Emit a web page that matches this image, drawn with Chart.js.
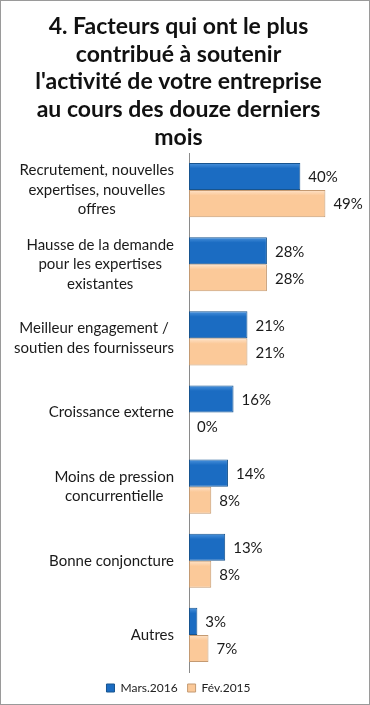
<!DOCTYPE html>
<html lang="fr">
<head>
  <meta charset="UTF-8">
  <title>Facteurs qui ont le plus contribué</title>
  <script src="https://cdn.jsdelivr.net/npm/chart.js"></script>
  <style>
    html, body {
      margin: 0;
      padding: 0;
      background: #fff;
    }
    .frame {
      width: 370px;
      height: 705px;
      box-sizing: border-box;
      border: 1px solid #9a9a9a;
    }
    .frame canvas {
      display: block;
    }
  </style>
</head>
<body>
  <div class="frame">
    <canvas id="facteursChart" width="368" height="703"></canvas>
  </div>

  <script>
    const categories = [
      ['Recrutement, nouvelles', 'expertises, nouvelles', 'offres'],
      ['Hausse de la demande', 'pour les expertises', 'existantes'],
      ['Meilleur engagement /', 'soutien des fournisseurs'],
      ['Croissance externe'],
      ['Moins de pression', 'concurrentielle'],
      ['Bonne conjoncture'],
      ['Autres']
    ];
    const mars2016 = [40, 28, 21, 16, 14, 13, 3];
    const fev2015 = [49, 28, 21, 0, 8, 8, 7];
    const seriesNames = ['Mars.2016', 'Fév.2015'];
    const titleLines = [
      '4. Facteurs qui ont le plus',
      'contribué à soutenir',
      "l'activité de votre entreprise",
      'au cours des douze derniers',
      'mois'
    ];

    const fontFamily = "Lato, 'Open Sans', sans-serif";

    // petit relief : bande claire en haut de chaque barre
    const barFill = (light, base, side) => (context) => {
      const chart = context.chart;
      const y = chart.scales && chart.scales.y;
      if (!y || !chart.chartArea) return base;
      const c = y.getPixelForValue(context.dataIndex);
      const top = side === 0 ? c - 27 : c;
      const g = chart.ctx.createLinearGradient(0, top, 0, top + 27);
      g.addColorStop(0, light);
      g.addColorStop(0.2, base);
      g.addColorStop(1, base);
      return g;
    };

    // libellés de catégories : bloc aligné à droite, lignes centrées
    const categoryLabels = {
      id: 'categoryLabels',
      afterDraw(chart) {
        const ctx = chart.ctx;
        const scale = chart.scales.y;
        const right = scale.right - 15;
        const lh = 19.5;
        ctx.save();
        ctx.font = '15px ' + fontFamily;
        ctx.fillStyle = '#1a1a1a';
        ctx.textAlign = 'center';
        ctx.textBaseline = 'middle';
        chart.data.labels.forEach((lines, i) => {
          const cy = scale.getPixelForTick(i);
          const w = Math.max(...lines.map(l => ctx.measureText(l).width));
          const cx = right - w / 2;
          lines.forEach((l, k) => {
            ctx.fillText(l, cx, cy + (k - (lines.length - 1) / 2) * lh);
          });
        });
        ctx.restore();
      }
    };

    // étiquettes de valeur à droite des barres
    const valueLabels = {
      id: 'valueLabels',
      afterDatasetsDraw(chart) {
        const ctx = chart.ctx;
        ctx.save();
        ctx.font = '15px ' + fontFamily;
        ctx.fillStyle = '#1a1a1a';
        ctx.textAlign = 'left';
        ctx.textBaseline = 'middle';
        chart.data.datasets.forEach((ds, i) => {
          chart.getDatasetMeta(i).data.forEach((bar, j) => {
            ctx.fillText(ds.data[j] + '%', bar.x + 8, bar.y + 1);
          });
        });
        ctx.restore();
      }
    };

    const ctx = document.getElementById('facteursChart').getContext('2d');

    new Chart(ctx, {
      type: 'bar',
      data: {
        labels: categories,
        datasets: [
          {
            label: seriesNames[0],
            data: mars2016,
            backgroundColor: barFill('#4a92dc', '#1b6cc2', 0),
            borderColor: '#17548f',
            borderWidth: 1,
            borderSkipped: false,
            categoryPercentage: 0.73,
            barPercentage: 1.0
          },
          {
            label: seriesNames[1],
            data: fev2015,
            backgroundColor: barFill('#fee3c9', '#fbc999', 1),
            borderColor: '#c49a72',
            borderWidth: 1,
            borderSkipped: false,
            categoryPercentage: 0.73,
            barPercentage: 1.0
          }
        ]
      },
      plugins: [valueLabels, categoryLabels],
      options: {
        indexAxis: 'y',
        responsive: false,
        animation: false,
        layout: {
          padding: { left: 0, right: 13, top: 0, bottom: 0 }
        },
        plugins: {
          title: {
            display: true,
            text: titleLines,
            color: '#111',
            font: { family: fontFamily, size: 23, weight: 'bold', lineHeight: 1.2 },
            padding: { top: 12, bottom: 2 }
          },
          legend: {
            position: 'bottom',
            labels: {
              color: '#222',
              font: { family: fontFamily, size: 12 },
              boxWidth: 8,
              boxHeight: 8,
              padding: 10
            }
          },
          tooltip: { enabled: false }
        },
        scales: {
          x: {
            display: false,
            min: 0,
            max: 60
          },
          y: {
            grid: { display: false, drawTicks: false },
            border: { display: true, color: '#8a8a8a', width: 1 },
            ticks: { display: false },
            afterFit: (scale) => { scale.width = 188; }
          }
        }
      }
    });
  </script>
</body>
</html>
